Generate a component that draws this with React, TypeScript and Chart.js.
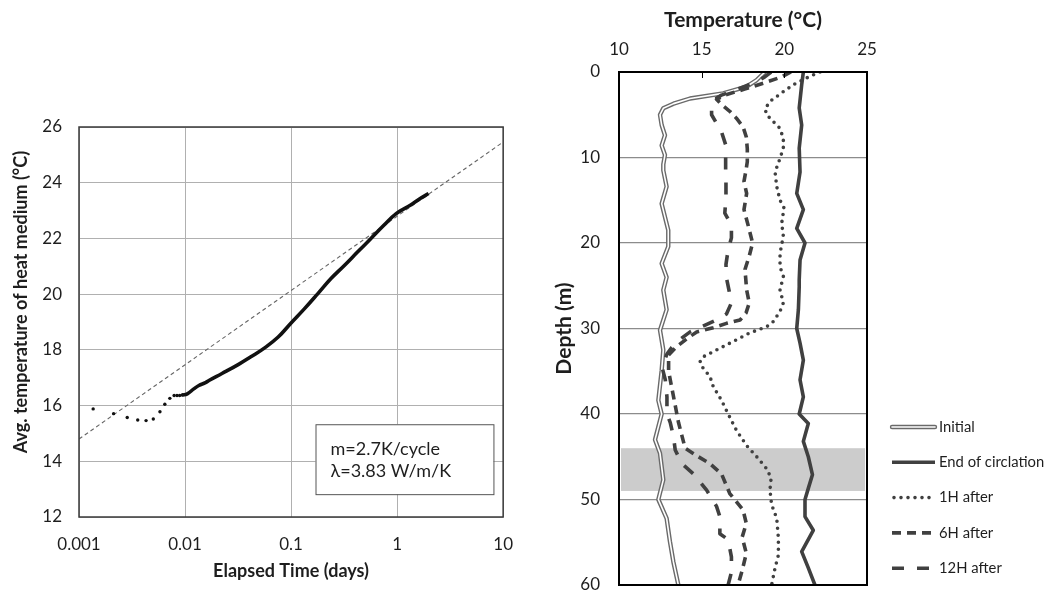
import React, { useEffect, useRef } from "react";
import { Chart, registerables } from "chart.js";
Chart.register(...registerables);

const FONT = "Lato";
const INK = "#1e1e1e";
const LINE = "#404040";

// ---------------- Left chart data ----------------
const sparseTimeDays = [0.00136, 0.00212, 0.00285, 0.00358, 0.00429, 0.00502, 0.0058, 0.00645, 0.00719, 0.00789, 0.0084, 0.0089, 0.0094];
const sparseTempC = [15.88, 15.71, 15.57, 15.48, 15.46, 15.52, 15.78, 16.05, 16.26, 16.36, 16.36, 16.36, 16.38];
const curveTimeDays = [0.0094, 0.0105, 0.0121, 0.0135, 0.0156, 0.0168, 0.0223, 0.032, 0.0426, 0.0568, 0.0756, 0.0986, 0.134, 0.179, 0.238, 0.318, 0.423, 0.564, 0.75, 0.98, 1.33, 1.65, 1.98];
const curveTempC = [16.38, 16.42, 16.6, 16.72, 16.82, 16.9, 17.15, 17.48, 17.77, 18.08, 18.46, 18.94, 19.48, 20.02, 20.56, 21.03, 21.51, 21.99, 22.47, 22.89, 23.19, 23.43, 23.61];
const fitTimeDays = [0.001, 10];
const fitTempC = [14.8, 25.46];
const timeTicks = [0.001, 0.01, 0.1, 1, 10];
const timeTickLabels = ["0.001", "0.01", "0.1", "1", "10"];
const tempRange = [12, 26];
const annotationLines = ["m=2.7K/cycle", "λ=3.83 W/m/K"];
const leftXTitle = "Elapsed Time (days)";
const leftYTitle = "Avg. temperature of heat medium (°C)";

// ---------------- Right chart data: [depth m, temperature °C] ----------------
const initialProfile = [[0, 18.83], [0.94, 18.33], [1.7, 17.72], [2.5, 16.3], [3.1, 14.3], [3.7, 13.3], [4.25, 12.68], [5.0, 12.48], [6.2, 12.58], [7.4, 12.78], [8.6, 12.58], [9.7, 12.78], [10.8, 12.68], [11.5, 12.68], [13.4, 12.88], [15.4, 12.58], [18.5, 12.98], [20.4, 12.98], [22.4, 12.58], [24, 12.88], [25.5, 12.68], [27.8, 12.88], [30.2, 12.48], [32.5, 12.68], [34.9, 12.58], [38.4, 12.38], [40, 12.58], [43, 12.18], [44.6, 12.48], [47.7, 12.68], [50, 12.38], [52.2, 12.88], [54.9, 13.08], [57.3, 13.29], [60, 13.59]];
const endProfile = [[0, 21.15], [1.5, 21.05], [4.2, 20.9], [6.2, 21.05], [8.9, 20.9], [11.7, 20.95], [14.2, 20.75], [16.1, 21.15], [18.3, 20.75], [20.0, 21.25], [22.0, 20.95], [24.3, 20.9], [25.1, 20.9], [27.8, 20.85], [30, 20.75], [31.7, 20.95], [33.7, 21.15], [36, 20.95], [38, 21.15], [40, 20.9], [41.1, 21.45], [43.2, 21.15], [45, 21.45], [47.1, 21.7], [48.7, 21.45], [50, 21.25], [52, 21.25], [53.6, 21.75], [56.1, 21.05], [58, 21.45], [60, 21.85]];
const h1Profile = [[0, 22.16], [0.5, 21.55], [1.5, 20.54], [2.3, 19.94], [3.3, 19.23], [4.25, 18.83], [5.0, 18.93], [5.8, 19.33], [6.6, 19.74], [7.8, 19.94], [8.9, 19.94], [10.1, 19.74], [11.7, 19.44], [13.4, 19.54], [15.0, 19.74], [15.9, 19.98], [17.7, 19.84], [19.2, 19.94], [21.2, 19.74], [22.8, 19.74], [23.9, 19.94], [25.5, 19.74], [27, 19.94], [28, 19.74], [29.2, 19.33], [29.8, 18.93], [30.5, 17.92], [31.5, 16.92], [32.5, 15.91], [33.3, 15.1], [33.9, 14.9], [34.7, 15.1], [35.6, 15.5], [36.8, 15.7], [38.4, 16.2], [40, 16.6], [41.9, 17.1], [43.7, 17.72], [45, 18.33], [46.4, 18.93], [47.5, 19.2], [48.9, 19.13], [50.6, 19.23], [52.2, 19.54], [54.5, 19.64], [56.5, 19.64], [58, 19.44], [60, 19.23]];
const h6Profile = [[0, 20.4], [0.6, 19.8], [1.2, 18.9], [2.0, 17.6], [2.7, 16.4], [3.2, 15.9], [3.8, 16.2], [4.6, 16.7], [5.4, 17.1], [6.4, 17.5], [7.6, 17.7], [9, 17.76], [10.5, 17.76], [11.5, 17.68], [12.8, 17.56], [14.2, 17.72], [16.1, 17.56], [18, 17.82], [20, 18.08], [21.5, 17.88], [23.1, 17.62], [25.5, 17.72], [27, 17.88], [28.2, 17.68], [29, 17.32], [29.4, 16.5], [29.9, 15.7], [30.4, 14.7], [31.2, 14.1], [32.1, 13.5], [33.1, 13.0], [35, 13.0], [37, 13.2], [39, 13.4], [41, 13.6], [42.5, 13.8], [44, 14.0], [45, 14.8], [45.8, 15.5], [47, 16.2], [49.3, 16.7], [51.2, 17.5], [52.8, 17.7], [54.4, 17.45], [56.3, 17.7], [58.3, 17.45], [60, 17.2]];
const h12Profile = [[0, 19.2], [0.6, 18.8], [1.2, 18.2], [2.0, 17.2], [2.7, 16.2], [3.2, 15.8], [4.0, 15.6], [5.0, 15.6], [6.0, 15.9], [7.0, 16.2], [8.5, 16.45], [10.3, 16.45], [11.7, 16.45], [12.8, 16.47], [14.7, 16.47], [16.5, 16.4], [17.9, 16.8], [19.4, 16.8], [20.8, 16.6], [22.5, 16.47], [24.1, 16.5], [25.7, 16.67], [27, 16.8], [28.3, 16.5], [29, 15.9], [29.8, 15.0], [30.4, 14.3], [31.4, 13.6], [32.2, 13.2], [33, 12.9], [34.5, 12.6], [36, 12.8], [38, 12.9], [40, 12.9], [41, 13.1], [42.7, 13.3], [44.2, 13.4], [45.8, 13.8], [47, 14.5], [48.9, 15.3], [50.8, 15.9], [52, 16.1], [54, 16.1], [54.7, 16.6], [56.7, 16.8], [58.5, 16.8], [60, 16.6]];
const bandDepthRange = [44, 49];
const tempAxisRange = [10, 25];
const depthAxisRange = [0, 60];
const legendLabels = ["Initial", "End of circlation", "1H after", "6H after", "12H after"];
const rightXTitle = "Temperature (°C)";
const rightYTitle = "Depth (m)";

const toPts = (arr: number[][]) => arr.map(([d, t]) => ({ x: t, y: d }));

function LeftChart() {
  const ref = useRef<HTMLCanvasElement>(null);
  useEffect(() => {
    const decor = {
      id: "leftDecor",
      afterDatasetsDraw(chart: any) {
        const { ctx, chartArea: a, scales } = chart;
        const x = scales.x, y = scales.y;
        ctx.save();
        // annotation box
        const bx0 = x.getPixelForValue(0.17), bx1 = x.getPixelForValue(8.1);
        const by0 = y.getPixelForValue(15.33), by1 = y.getPixelForValue(12.82);
        ctx.fillStyle = "#fff";
        ctx.fillRect(bx0, by0, bx1 - bx0, by1 - by0);
        ctx.strokeStyle = "#555";
        ctx.lineWidth = 1;
        ctx.strokeRect(bx0 + 0.5, by0 + 0.5, bx1 - bx0, by1 - by0);
        ctx.fillStyle = INK;
        ctx.font = `18px ${FONT}`;
        ctx.textBaseline = "middle";
        ctx.textAlign = "left";
        ctx.fillText(annotationLines[0], bx0 + 15, by0 + 25);
        ctx.fillText(annotationLines[1], bx0 + 15, by0 + 47);
        // frame
        ctx.strokeStyle = "#3a3a3a";
        ctx.lineWidth = 1.5;
        ctx.strokeRect(a.left, a.top, a.right - a.left, a.bottom - a.top);
        // y title
        ctx.translate(21.5, 302);
        ctx.rotate(-Math.PI / 2);
        ctx.font = `bold 18px ${FONT}`;
        ctx.textAlign = "center";
        ctx.fillStyle = INK;
        ctx.fillText(leftYTitle, 0, 0);
        ctx.restore();
      },
    };
    const chart = new Chart(ref.current!, {
      type: "scatter",
      data: {
        datasets: [
          {
            data: sparseTimeDays.map((t, i) => ({ x: t, y: sparseTempC[i] })),
            pointRadius: 1.7,
            pointBackgroundColor: "#111",
            pointBorderWidth: 0,
            showLine: false,
            order: 1,
          },
          {
            data: curveTimeDays.map((t, i) => ({ x: t, y: curveTempC[i] })),
            showLine: true,
            borderColor: "#111",
            borderWidth: 3.6,
            tension: 0.4,
            pointRadius: 0,
            order: 0,
          },
          {
            data: fitTimeDays.map((t, i) => ({ x: t, y: fitTempC[i] })),
            showLine: true,
            borderColor: "#666",
            borderWidth: 1.1,
            borderDash: [4, 3],
            pointRadius: 0,
            order: 2,
          },
        ],
      },
      options: {
        responsive: false,
        animation: false,
        events: [],
        layout: { padding: { top: 127, right: 23, left: 0, bottom: 0 } },
        plugins: { legend: { display: false }, tooltip: { enabled: false } },
        scales: {
          x: {
            type: "logarithmic",
            min: timeTicks[0],
            max: timeTicks[timeTicks.length - 1],
            afterBuildTicks: (s: any) => {
              s.ticks = timeTicks.map((v) => ({ value: v }));
            },
            afterFit: (s: any) => {
              s.height = 73;
            },
            grid: { color: "#b0b0b0", lineWidth: 1, drawTicks: false },
            border: { display: false },
            ticks: {
              padding: 17,
              color: INK,
              font: { family: FONT, size: 17 },
              maxRotation: 0,
              autoSkip: false,
              callback: (v: any) => {
                const i = timeTicks.findIndex((t) => Math.abs(Math.log10(t) - Math.log10(v)) < 1e-6);
                return i >= 0 ? timeTickLabels[i] : "";
              },
            },
            title: {
              display: true,
              text: leftXTitle,
              color: INK,
              font: { family: FONT, size: 18, weight: "bold" },
              padding: { top: 0, bottom: 8.2 },
            },
          },
          y: {
            type: "linear",
            min: tempRange[0],
            max: tempRange[1],
            afterFit: (s: any) => {
              s.width = 79;
            },
            grid: { color: "#b0b0b0", lineWidth: 1, drawTicks: false },
            border: { display: false },
            ticks: { stepSize: 2, padding: 17, color: INK, font: { family: FONT, size: 17 } },
          },
        },
      } as any,
      plugins: [decor],
    });
    return () => chart.destroy();
  }, []);
  return <canvas ref={ref} width={530} height={590} style={{ position: "absolute", left: 0, top: 0, width: 530, height: 590 }} />;
}

type LineStyle = { color: string; width: number; dash: number[]; cap: CanvasLineCap; double?: boolean };
const styles: LineStyle[] = [
  { color: "#6a6a6a", width: 4.4, dash: [], cap: "butt", double: true },
  { color: LINE, width: 3.6, dash: [], cap: "butt" },
  { color: LINE, width: 3.6, dash: [0, 7], cap: "round" },
  { color: LINE, width: 3.6, dash: [9, 6], cap: "butt" },
  { color: LINE, width: 3.6, dash: [12, 13], cap: "butt" },
];

function RightChart() {
  const ref = useRef<HTMLCanvasElement>(null);
  useEffect(() => {
    const decor = {
      id: "rightDecor",
      beforeDatasetsDraw(chart: any) {
        const { ctx, chartArea: a, scales } = chart;
        const y = scales.y;
        const y0 = y.getPixelForValue(bandDepthRange[0]);
        const y1 = y.getPixelForValue(bandDepthRange[1]);
        ctx.save();
        ctx.fillStyle = "#cccccc";
        ctx.fillRect(a.left + 2, y0, a.right - a.left - 4, y1 - y0);
        ctx.restore();
      },
      afterDraw(chart: any) {
        const { ctx, chartArea: a, scales } = chart;
        const x = scales.x;
        ctx.save();
        // inward ticks on top axis
        ctx.strokeStyle = "#000";
        ctx.lineWidth = 1;
        for (let v = tempAxisRange[0]; v <= tempAxisRange[1]; v += 5) {
          const px = Math.round(x.getPixelForValue(v)) + 0.5;
          ctx.beginPath();
          ctx.moveTo(px, a.top);
          ctx.lineTo(px, a.top + 6);
          ctx.stroke();
        }
        // frame
        ctx.strokeStyle = "#000";
        ctx.lineWidth = 2;
        ctx.strokeRect(a.left, a.top, a.right - a.left, a.bottom - a.top);
        // legend
        const x0 = 352, x1 = 395;
        legendLabels.forEach((label, i) => {
          const yy = 427 + i * 35.3;
          const s = styles[i];
          ctx.save();
          ctx.beginPath();
          ctx.moveTo(s.cap === "round" ? x0 + 2 : x0, yy);
          ctx.lineTo(x1, yy);
          ctx.strokeStyle = s.color;
          ctx.lineWidth = s.width;
          ctx.lineCap = s.double ? "round" : s.cap;
          ctx.setLineDash(s.dash);
          ctx.stroke();
          if (s.double) {
            ctx.beginPath();
            ctx.moveTo(x0, yy);
            ctx.lineTo(x1, yy);
            ctx.strokeStyle = "#fff";
            ctx.lineWidth = 1.6;
            ctx.stroke();
          }
          ctx.restore();
          ctx.fillStyle = INK;
          ctx.font = `14.8px ${FONT}`;
          ctx.textAlign = "left";
          ctx.textBaseline = "middle";
          ctx.fillText(label, 399, yy);
        });
        ctx.restore();
      },
    };
    const mk = (data: number[][], s: LineStyle, order: number, override: any = {}) => ({
      data: toPts(data),
      showLine: true,
      pointRadius: 0,
      borderColor: s.color,
      borderWidth: s.width,
      borderDash: s.dash,
      borderCapStyle: s.cap,
      borderJoinStyle: "round",
      tension: 0,
      order,
      ...override,
    });
    const chart = new Chart(ref.current!, {
      type: "scatter",
      data: {
        datasets: [
          mk(initialProfile, styles[0], 11),
          mk(initialProfile, styles[0], 10, { borderColor: "#ffffff", borderWidth: 1.6 }),
          mk(endProfile, styles[1], 1),
          mk(h1Profile, styles[2], 2),
          mk(h6Profile, styles[3], 3),
          mk(h12Profile, styles[4], 4),
        ],
      },
      options: {
        responsive: false,
        animation: false,
        events: [],
        layout: { padding: { top: 0, right: 180, left: 0, bottom: 5 } },
        plugins: { legend: { display: false }, tooltip: { enabled: false } },
        scales: {
          x: {
            type: "linear",
            position: "top",
            min: tempAxisRange[0],
            max: tempAxisRange[1],
            afterFit: (s: any) => {
              s.height = 72;
              s.paddingLeft = 0;
              s.paddingRight = 0;
            },
            grid: { display: false, drawTicks: false },
            border: { display: false },
            ticks: { stepSize: 5, padding: 11.8, color: INK, font: { family: FONT, size: 17 }, maxRotation: 0 },
            title: {
              display: true,
              text: rightXTitle,
              color: INK,
              font: { family: FONT, size: 21, weight: "bold" },
              padding: { top: 7.4, bottom: 0 },
            },
          },
          y: {
            type: "linear",
            reverse: true,
            min: depthAxisRange[0],
            max: depthAxisRange[1],
            afterFit: (s: any) => {
              s.width = 79;
              s.paddingTop = 0;
              s.paddingBottom = 0;
            },
            grid: { color: "#8c8c8c", lineWidth: 1.2, drawTicks: false },
            border: { display: false },
            ticks: { stepSize: 10, padding: 19, color: INK, font: { family: FONT, size: 17 } },
            title: {
              display: true,
              text: rightYTitle,
              color: INK,
              font: { family: FONT, size: 21, weight: "bold" },
              padding: { top: 11.9, bottom: 0 },
            },
          },
        },
      } as any,
      plugins: [decor],
    });
    return () => chart.destroy();
  }, []);
  return <canvas ref={ref} width={507} height={590} style={{ position: "absolute", left: 540, top: 0, width: 507, height: 590 }} />;
}

export default function App() {
  return (
    <div style={{ position: "absolute", left: 0, top: 0, width: 1047, height: 590, background: "#fff", overflow: "hidden" }}>
      <LeftChart />
      <RightChart />
    </div>
  );
}
